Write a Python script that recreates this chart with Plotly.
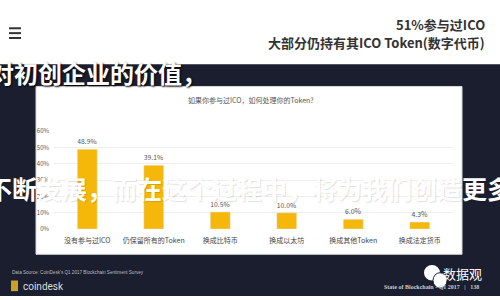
import plotly.graph_objects as go

categories = ["没有参与过ICO", "仍保留所有的Token", "换成比特币", "换成以太坊", "换成其他Token", "换成法定货币"]
values = [48.9, 39.1, 10.5, 10.0, 6.0, 4.3]
value_labels = ["48.9%", "39.1%", "10.5%", "10.0%", "6.0%", "4.3%"]
y_ticks = [0, 10, 20, 30, 40, 50, 60]
y_tick_labels = ["0%", "10%", "20%", "30%", "40%", "50%", "60%"]

W, H = 500, 300
def px(x): return x / W
def py(y): return 1 - y / H

fig = go.Figure()
fig.add_trace(go.Bar(
    x=categories, y=values, marker_color="#F6B70B",
    text=value_labels, textposition="outside", cliponaxis=False,
    textfont=dict(size=7, color="#555"), width=0.3,
))

navy = "#1b1e2f"
shapes = [
    dict(type="rect", xref="paper", yref="paper", x0=0, x1=1, y0=0, y1=py(61),
         fillcolor=navy, line_width=0, layer="below"),
    dict(type="rect", xref="paper", yref="paper", x0=px(36), x1=px(462), y0=py(257), y1=py(84),
         fillcolor="white", line=dict(color="#d8d8d8", width=1), layer="below"),
    dict(type="line", xref="paper", yref="paper", x0=px(9), x1=px(21), y0=py(24), y1=py(24), line=dict(color="#333", width=2)),
    dict(type="line", xref="paper", yref="paper", x0=px(9), x1=px(21), y0=py(29), y1=py(29), line=dict(color="#333", width=2)),
    dict(type="line", xref="paper", yref="paper", x0=px(9), x1=px(21), y0=py(34), y1=py(34), line=dict(color="#333", width=2)),
    dict(type="rect", xref="paper", yref="paper", x0=px(11), x1=px(18), y0=py(295), y1=py(284),
         fillcolor="#c9a227", line_width=0),
    dict(type="circle", xref="paper", yref="paper", x0=px(424), x1=px(440), y0=py(284), y1=py(268),
         fillcolor="white", line_width=0),
    dict(type="circle", xref="paper", yref="paper", x0=px(433), x1=px(447), y0=py(292), y1=py(276),
         fillcolor="white", line=dict(color=navy, width=1)),
]

def A(x, y, text, xanchor, size, color, family="Noto Sans CJK SC", shadow=None):
    f = dict(size=size, color=color, family=family)
    if shadow:
        f["shadow"] = shadow
    return dict(xref="paper", yref="paper", x=px(x), y=py(y), text=text, xanchor=xanchor,
                yanchor="middle", showarrow=False, font=f)

ann = [
    A(487, 20, "<b>51%参与过ICO</b>", "right", 13, "#333"),
    A(487, 39, "<b>大部分仍持有其ICO Token(数字代币)</b>", "right", 13, "#333"),
    A(-12, 70, "<b>对初创企业的价值，</b>", "left", 24, "white", shadow="1px 1px 2px #000"),
    A(251, 98, "如果你参与过ICO，如何处理你的Token?", "center", 7, "#555"),
    A(-15, 189, "<b>不断发展，而在这个过程中，将为我们创造更多</b>", "left", 25, "white",
      shadow="1px 1px 1px rgba(0,0,0,0.12)"),
    A(10, 276, "Data Source: CoinDesk's Q1 2017 Blockchain Sentiment Survey", "left", 4.6, "#bbb", "Liberation Sans"),
    A(21, 290, "coindesk", "left", 10, "#ddd", "Roboto"),
    A(484, 277, "数据观", "right", 13, "white"),
    A(481, 291, "<b>State of Blockchain - Q1 2017   |   138</b>", "right", 6, "#ccc", "Liberation Serif"),
]

fig.update_layout(
    width=W, height=H, margin=dict(l=0, r=0, t=0, b=0),
    paper_bgcolor="white", plot_bgcolor="white",
    shapes=shapes, annotations=ann, showlegend=False, bargap=0.7,
    xaxis=dict(domain=[px(54), px(453)], tickfont=dict(size=7, color="#444", family="Noto Sans CJK SC"),
               showline=False, ticks="", showgrid=False, tickangle=0, ticklabelstandoff=6),
    yaxis=dict(domain=[py(231), py(130)], range=[0, 60], tickvals=y_ticks, ticktext=y_tick_labels,
               tickfont=dict(size=6, color="#555"), gridcolor="#eeeeee", zeroline=False, ticklabelstandoff=4),
    font=dict(family="Noto Sans CJK SC"),
)
fig.write_html("out.html")
